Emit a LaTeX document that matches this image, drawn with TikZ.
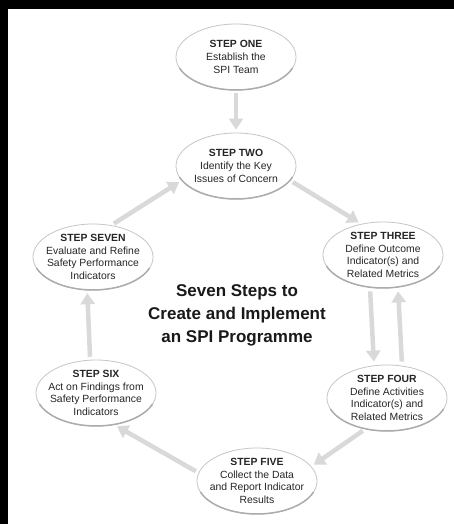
\documentclass[tikz,border=0pt]{standalone}
\usepackage{fontspec}
\setmainfont{Liberation Sans}
\usetikzlibrary{arrows.meta, shapes.geometric}

\begin{document}
\begin{tikzpicture}[
            x=1pt, y=-1pt,
            stepnode/.style={ellipse, draw=gray!45, line width=0.8pt, minimum width=120pt, minimum height=66pt,
                inner sep=-14pt, align=center, text=black!85, font=\fontsize{10.4}{12.7}\selectfont},
            rim/.style={draw=gray!65, line width=1.5pt, line cap=round},
            flow/.style={line width=4.5pt, draw=gray!30, -{Triangle[length=11pt, width=14pt]},
                shorten <=3pt, shorten >=3pt},
            title/.style={align=center, text=black!90, font=\fontsize{17}{23}\selectfont\bfseries},
        ]
        % black frame round the white sheet
        \fill[black] (0, 0) rectangle (454, 524);
        \fill[white] (8, 9) rectangle (454, 524);
        % the seven steps
        \node[stepnode] (one) at (236, 57) {\textbf{STEP ONE}\\Establish the\\SPI Team};
        \node[stepnode] (two) at (236, 166) {\textbf{STEP TWO}\\Identify the Key\\Issues of Concern};
        \node[stepnode] (three) at (383, 255) {\textbf{STEP THREE}\\Define Outcome\\Indicator(s) and\\Related Metrics};
        \node[stepnode] (four) at (387, 398) {\textbf{STEP FOUR}\\Define Activities\\Indicator(s) and\\Related Metrics};
        \node[stepnode] (five) at (257, 481) {\textbf{STEP FIVE}\\Collect the Data\\and Report Indicator\\Results};
        \node[stepnode] (six) at (96, 393) {\textbf{STEP SIX}\\Act on Findings from\\Safety Performance\\Indicators};
        \node[stepnode] (seven) at (93, 257) {\textbf{STEP SEVEN}\\Evaluate and Refine\\Safety Performance\\Indicators};
        \node[title] (heading) at (237, 315) {Seven Steps to\\Create and Implement\\an SPI Programme};
        % darker brush stroke along the lower rim of each step
        \foreach \s in {one, two, three, four, five, six, seven}
            \draw[rim] ([shift={(200:60pt and 33pt)}]\s.center) arc[start angle=200, end angle=340, x radius=60pt, y radius=33pt];
        % arrows between the steps
        \draw[flow] (one.south) -- (two.north);
        \draw[flow] (two.-15) -- (three.125);
        \draw[flow] ([xshift=-13pt]three.south) -- ([xshift=-13pt]four.north);
        \draw[flow] ([xshift=15pt]four.north) -- ([xshift=15pt]three.south);
        \draw[flow] (four.-125) -- (five.15);
        \draw[flow] (five.172) -- (six.-60);
        \draw[flow] (six.100) -- (seven.-100);
        \draw[flow] (seven.60) -- (two.195);
    \end{tikzpicture}
\end{document}
